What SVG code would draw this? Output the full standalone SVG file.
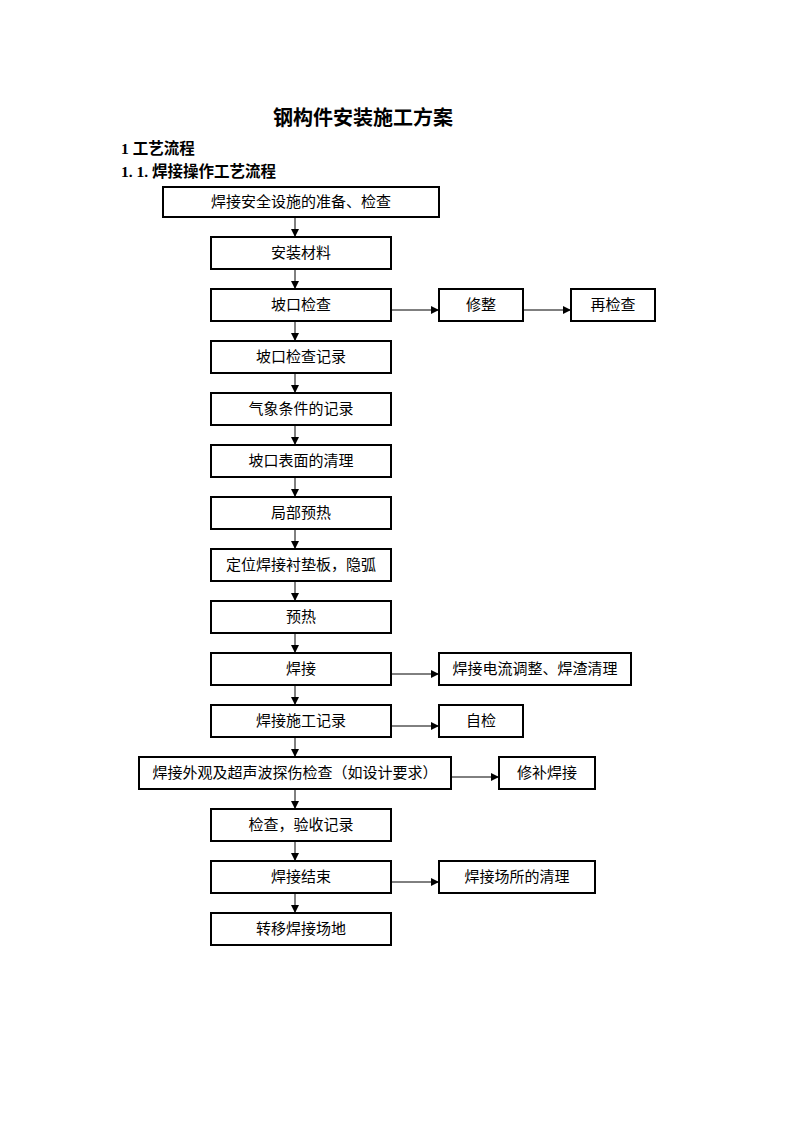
<svg xmlns="http://www.w3.org/2000/svg" width="793" height="1122" viewBox="0 0 793 1122">
<style>
.box{fill:#fff;stroke:#000;stroke-width:2}
.t{font-family:"Liberation Serif","Noto Sans CJK SC",serif;font-size:15px;text-anchor:middle;fill:#000}
.h{font-family:"Liberation Serif","Noto Sans CJK SC",serif;font-weight:bold;fill:#000}
.c{stroke:#000;stroke-width:1;fill:none;marker-end:url(#a)}
</style>
<defs>
<marker id="a" markerWidth="8" markerHeight="8" refX="8" refY="4" orient="auto" markerUnits="userSpaceOnUse">
<path d="M0,0 L8,4 L0,8 Z" fill="#000"/>
</marker>
</defs>
<text class="h" x="363" y="125" font-size="20" text-anchor="middle">钢构件安装施工方案</text>
<text class="h" x="121" y="154" font-size="15.5">1 工艺流程</text>
<text class="h" x="121" y="177" font-size="15.5">1. 1. 焊接操作工艺流程</text>
<g id="connectors">
<line class="c" x1="295" y1="217" x2="295" y2="237"/>
<line class="c" x1="295" y1="269" x2="295" y2="289"/>
<line class="c" x1="295" y1="321" x2="295" y2="341"/>
<line class="c" x1="295" y1="373" x2="295" y2="393"/>
<line class="c" x1="295" y1="425" x2="295" y2="445"/>
<line class="c" x1="295" y1="477" x2="295" y2="497"/>
<line class="c" x1="295" y1="529" x2="295" y2="549"/>
<line class="c" x1="295" y1="581" x2="295" y2="601"/>
<line class="c" x1="295" y1="633" x2="295" y2="653"/>
<line class="c" x1="295" y1="685" x2="295" y2="705"/>
<line class="c" x1="295" y1="737" x2="295" y2="757"/>
<line class="c" x1="295" y1="789" x2="295" y2="809"/>
<line class="c" x1="295" y1="841" x2="295" y2="861"/>
<line class="c" x1="295" y1="893" x2="295" y2="913"/>
<line class="c" x1="391" y1="310" x2="439" y2="310"/>
<line class="c" x1="523" y1="310" x2="571" y2="310"/>
<line class="c" x1="391" y1="674" x2="439" y2="674"/>
<line class="c" x1="391" y1="726" x2="439" y2="726"/>
<line class="c" x1="451" y1="777" x2="499" y2="777"/>
<line class="c" x1="391" y1="882" x2="439" y2="882"/>
</g>
<g id="n1"><rect class="box" x="163" y="187" width="276" height="30"/><text class="t" x="301" y="207">焊接安全设施的准备、检查</text></g>
<g id="n2"><rect class="box" x="211" y="237" width="180" height="32"/><text class="t" x="301" y="258">安装材料</text></g>
<g id="n3"><rect class="box" x="211" y="289" width="180" height="32"/><text class="t" x="301" y="310">坡口检查</text></g>
<g id="n3a"><rect class="box" x="439" y="289" width="84" height="32"/><text class="t" x="481" y="310">修整</text></g>
<g id="n3b"><rect class="box" x="571" y="289" width="84" height="32"/><text class="t" x="613" y="310">再检查</text></g>
<g id="n4"><rect class="box" x="211" y="341" width="180" height="32"/><text class="t" x="301" y="362">坡口检查记录</text></g>
<g id="n5"><rect class="box" x="211" y="393" width="180" height="32"/><text class="t" x="301" y="414">气象条件的记录</text></g>
<g id="n6"><rect class="box" x="211" y="445" width="180" height="32"/><text class="t" x="301" y="466">坡口表面的清理</text></g>
<g id="n7"><rect class="box" x="211" y="497" width="180" height="32"/><text class="t" x="301" y="518">局部预热</text></g>
<g id="n8"><rect class="box" x="211" y="549" width="180" height="32"/><text class="t" x="301" y="570">定位焊接衬垫板，隐弧</text></g>
<g id="n9"><rect class="box" x="211" y="601" width="180" height="32"/><text class="t" x="301" y="622">预热</text></g>
<g id="n10"><rect class="box" x="211" y="653" width="180" height="32"/><text class="t" x="301" y="674">焊接</text></g>
<g id="n10a"><rect class="box" x="439" y="653" width="192" height="32"/><text class="t" x="535" y="674">焊接电流调整、焊渣清理</text></g>
<g id="n11"><rect class="box" x="211" y="705" width="180" height="32"/><text class="t" x="301" y="726">焊接施工记录</text></g>
<g id="n11a"><rect class="box" x="439" y="705" width="84" height="32"/><text class="t" x="481" y="726">自检</text></g>
<g id="n12"><rect class="box" x="139" y="757" width="312" height="32"/><text class="t" x="295" y="778">焊接外观及超声波探伤检查（如设计要求）</text></g>
<g id="n12a"><rect class="box" x="499" y="757" width="96" height="32"/><text class="t" x="547" y="778">修补焊接</text></g>
<g id="n13"><rect class="box" x="211" y="809" width="180" height="32"/><text class="t" x="301" y="830">检查，验收记录</text></g>
<g id="n14"><rect class="box" x="211" y="861" width="180" height="32"/><text class="t" x="301" y="882">焊接结束</text></g>
<g id="n14a"><rect class="box" x="439" y="861" width="156" height="32"/><text class="t" x="517" y="882">焊接场所的清理</text></g>
<g id="n15"><rect class="box" x="211" y="913" width="180" height="32"/><text class="t" x="301" y="934">转移焊接场地</text></g>
</svg>
